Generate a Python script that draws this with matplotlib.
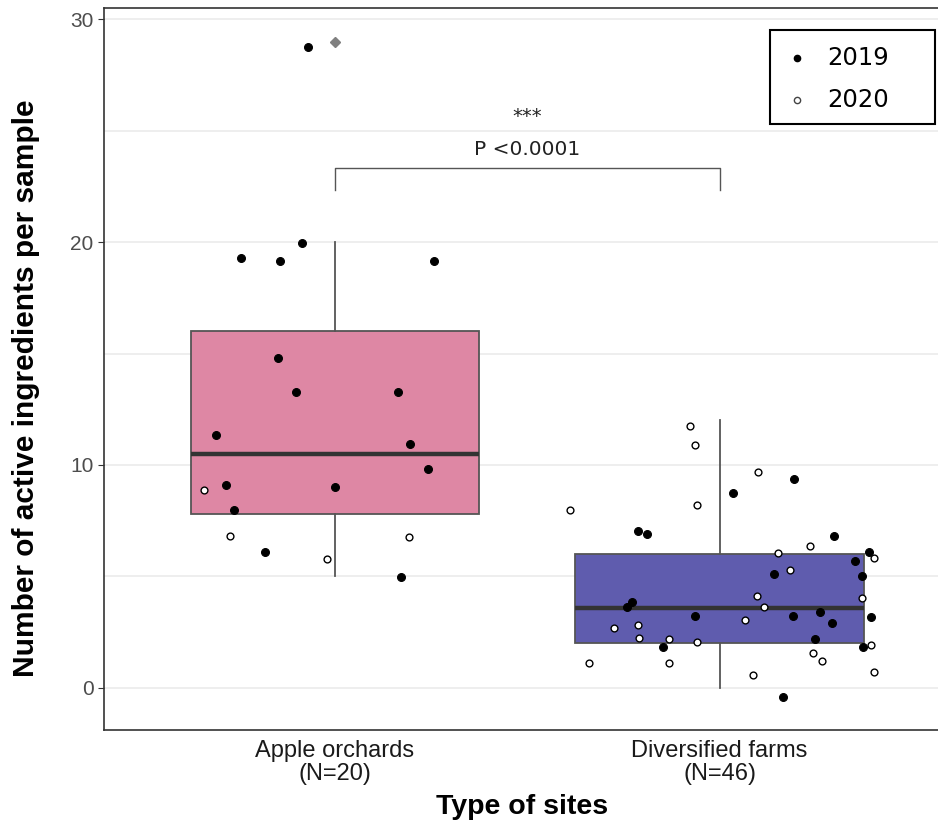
import matplotlib
matplotlib.use("Agg")
import matplotlib.pyplot as plt
from matplotlib.patches import Rectangle

# ---------------- data ----------------
categories = ["Apple orchards\n(N=20)", "Diversified farms\n(N=46)"]

# box statistics
box_q1 = [7.8, 2.0]
box_med = [10.5, 3.6]
box_q3 = [16.0, 6.0]
box_lo = [5.0, 0.0]
box_hi = [20.0, 12.0]
box_fliers = [[29.0], []]

# jittered points: values, horizontal jitter offsets, year
apple_vals = [28.78, 19.31, 19.17, 19.98, 19.17, 14.80, 13.28, 13.28, 11.35, 10.94,
              9.82, 8.87, 9.08, 9.01, 7.96, 6.83, 6.77, 6.09, 5.76, 4.97]
apple_jit = [-0.070, -0.243, -0.144, -0.086, 0.258, -0.147, -0.101, 0.165, -0.309, 0.196,
             0.242, -0.340, -0.282, -0.001, -0.263, -0.272, 0.192, -0.182, -0.020, 0.173]
apple_year = [2019, 2019, 2019, 2019, 2019, 2019, 2019, 2019, 2019, 2019,
              2019, 2020, 2019, 2019, 2019, 2020, 2020, 2019, 2020, 2019]

div_vals = [11.75, 10.88, 8.74, 7.96, 8.22, 7.04, 6.89, 3.85, 3.62, 3.23,
            2.69, 2.83, 2.25, 2.17, 1.84, 2.05, 1.11, 1.11, 9.70, 9.35,
            6.83, 6.38, 6.03, 6.11, 5.84, 5.69, 5.28, 5.10, 5.03, 4.10,
            4.03, 3.64, 3.38, 3.23, 3.17, 2.90, 3.04, 2.18, 1.57, 1.18,
            1.85, 1.90, 0.58, 0.70, -0.42]
div_jit = [-0.078, -0.063, 0.034, -0.390, -0.058, -0.212, -0.189, -0.229, -0.240, -0.063,
           -0.274, -0.212, -0.209, -0.131, -0.146, -0.058, -0.339, -0.131, 0.100, 0.193,
           0.298, 0.235, 0.151, 0.389, 0.401, 0.351, 0.182, 0.142, 0.371, 0.096,
           0.371, 0.116, 0.262, 0.192, 0.394, 0.293, 0.065, 0.247, 0.243, 0.266,
           0.374, 0.394, 0.088, 0.401, 0.165]
div_year = [2020, 2020, 2019, 2020, 2020, 2019, 2019, 2019, 2019, 2019,
            2020, 2020, 2020, 2020, 2019, 2020, 2020, 2020, 2020, 2019,
            2019, 2020, 2020, 2019, 2020, 2019, 2020, 2019, 2019, 2020,
            2020, 2020, 2019, 2019, 2019, 2019, 2020, 2019, 2020, 2020,
            2019, 2020, 2020, 2020, 2019]

years = [2019, 2020]
box_colors = ["#DE87A4", "#5F5CAE"]
p_text = "P <0.0001"
stars = "***"
bracket_y = 23.35
bracket_drop = 1.0

# ---------------- figure ----------------
fig = plt.figure(figsize=(9.38, 8.24), dpi=100)
ax = fig.add_axes([0.111, 0.114, 0.892, 0.876])

positions = [1, 2]
stats = []
for i in range(2):
    stats.append(dict(med=box_med[i], q1=box_q1[i], q3=box_q3[i],
                      whislo=box_lo[i], whishi=box_hi[i], fliers=box_fliers[i]))

bp = ax.bxp(stats, positions=positions, widths=0.75, showcaps=False,
            patch_artist=True,
            boxprops=dict(edgecolor="#555555", linewidth=1.3),
            whiskerprops=dict(color="#555555", linewidth=1.3),
            medianprops=dict(color="#333333", linewidth=3.2, solid_capstyle="butt"),
            flierprops=dict(marker="D", markersize=5, markerfacecolor="#808080",
                            markeredgecolor="#808080"),
            zorder=2)
for patch, c in zip(bp["boxes"], box_colors):
    patch.set_facecolor(c)

def draw_points(pos, vals, jit, yrs):
    for y in years:
        xs = [pos + j for j, yr in zip(jit, yrs) if yr == y]
        vs = [v for v, yr in zip(vals, yrs) if yr == y]
        if y == 2019:
            ax.scatter(xs, vs, s=32, facecolor="black", edgecolor="black",
                       linewidths=0.8, zorder=4)
        else:
            ax.scatter(xs, vs, s=24, facecolor="white", edgecolor="black",
                       linewidths=1.0, zorder=4)

draw_points(1, apple_vals, apple_jit, apple_year)
draw_points(2, div_vals, div_jit, div_year)

# significance bracket
ax.plot([1, 1, 2, 2], [bracket_y - bracket_drop, bracket_y, bracket_y, bracket_y - bracket_drop],
        color="#555555", linewidth=1.0, zorder=3)
ax.text(1.5, bracket_y + 0.8, p_text, ha="center", va="center", fontsize=14.5,
        color="#222222")
ax.text(1.5, bracket_y + 2.3, stars, ha="center", va="center", fontsize=14,
        color="#222222")

# axes styling
ax.set_xlim(0.40, 2.575)
ax.set_ylim(-1.9, 30.5)
ax.set_yticks([0, 10, 20, 30])
ax.set_yticks([5, 15, 25], minor=True)
ax.set_xticks(positions)
ax.set_xticklabels(categories, fontsize=17, color="#1a1a1a",
                   family="Liberation Sans", linespacing=1.05)
ax.tick_params(axis="y", which="minor", length=0)
ax.tick_params(axis="y", which="major", labelsize=15, labelcolor="#4D4D4D",
               color="#333333", length=4)
for lab in ax.get_yticklabels():
    lab.set_family("Liberation Sans")
ax.tick_params(axis="x", length=0, pad=7)
ax.grid(True, axis="y", which="both", color="#EBEBEB", linewidth=1.2, zorder=0)
ax.set_axisbelow(True)
for s in ax.spines.values():
    s.set_color("#333333")
    s.set_linewidth(1.2)

ax.set_xlabel("Type of sites", fontsize=20.5, fontweight="bold",
              family="Liberation Sans", labelpad=7)
ax.set_ylabel("Number of active ingredients per sample", fontsize=21.5,
              fontweight="bold", family="Liberation Sans")
ax.yaxis.set_label_coords(-0.077, 0.474)

# legend (drawn manually in axes coordinates)
leg_box = Rectangle((0.796, 0.839), 0.197, 0.1305, transform=ax.transAxes,
                    facecolor="white", edgecolor="black", linewidth=1.5,
                    zorder=6, clip_on=False)
ax.add_patch(leg_box)
leg_rows_y = [0.931, 0.8726]
for yr, yy in zip(years, leg_rows_y):
    if yr == 2019:
        ax.plot([0.828], [yy], marker="o", markersize=4.5, markerfacecolor="black",
                markeredgecolor="black", linestyle="none", transform=ax.transAxes,
                zorder=7, clip_on=False)
    else:
        ax.plot([0.828], [yy], marker="o", markersize=4.5, markerfacecolor="white",
                markeredgecolor="#444444", linestyle="none", transform=ax.transAxes,
                zorder=7, clip_on=False)
    ax.text(0.864, yy, str(yr), transform=ax.transAxes, ha="left", va="center",
            fontsize=17.5, color="black", zorder=7)

fig.savefig("out.png", dpi=100)
